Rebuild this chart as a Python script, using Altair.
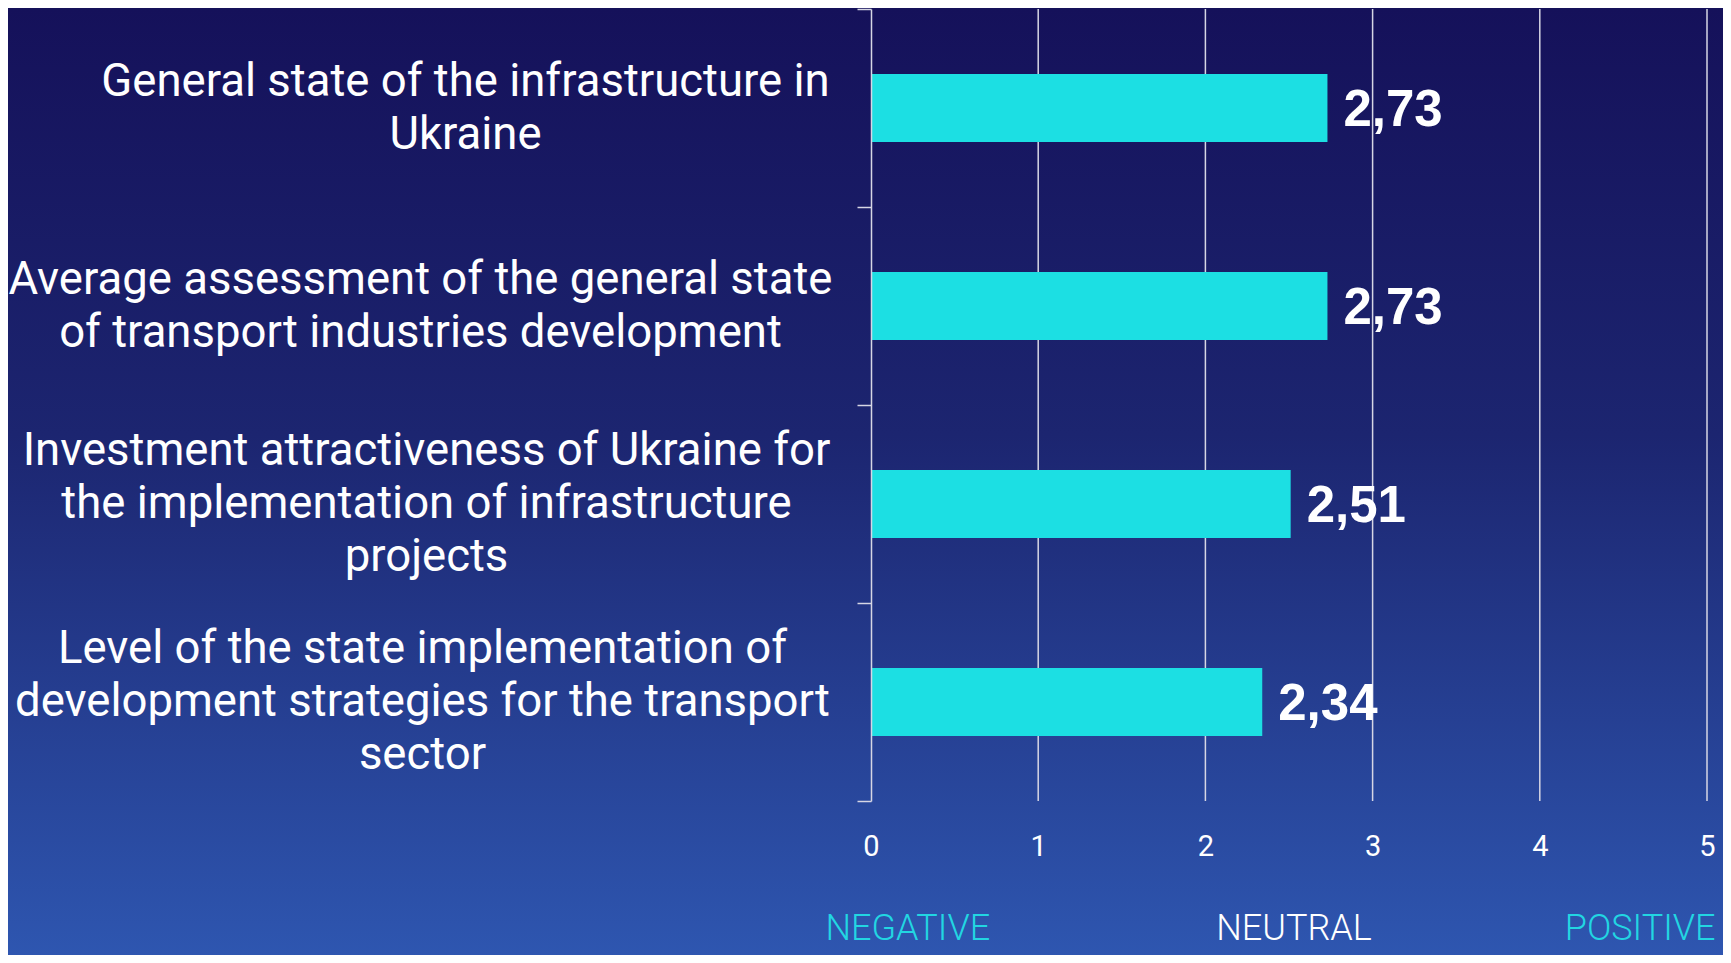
import altair as alt
import pandas as pd

# ---- data ----
categories = [
    "General state of the infrastructure in|Ukraine",
    "Average assessment of the general state|of transport industries development",
    "Investment attractiveness of Ukraine for|the implementation of infrastructure|projects",
    "Level of the state implementation of|development strategies for the transport|sector",
]
scores = [2.73, 2.73, 2.51, 2.34]
x_ticks = [0, 1, 2, 3, 4, 5]

sentiment_labels = ["NEGATIVE", "NEUTRAL", "POSITIVE"]
sentiment_pos = [0.22, 2.53, 4.60]

# ---- styles ----
W, H = 836, 792
PAD = {"left": 863, "top": 1, "right": 16, "bottom": 154}
label_padding = [392, 437, 431, 435]
LINE_H = 53
sentiment_colors = ["#22D6E2", "#FFFFFF", "#22D6E2"]
grid_col = "#D6D6E4"

df = pd.DataFrame({"category": categories, "score": scores})
sdf = pd.DataFrame({"label": sentiment_labels, "pos": sentiment_pos, "col": sentiment_colors})
tdf = pd.DataFrame({"tick": x_ticks[1:]})

pad_cond = {
    "condition": [
        {"test": f"datum.value == '{c}'", "value": p}
        for c, p in zip(categories[:-1], label_padding[:-1])
    ],
    "value": label_padding[-1],
}
# multi-line labels: global shift of half a line, plus another half line for 3-line labels
baseline_cond = {
    "condition": {
        "test": "length(split(datum.value, '|')) > 2",
        "value": "line-bottom",
    },
    "value": "middle",
}

x_scale = alt.Scale(domain=[0, 5], nice=False)
y_scale = alt.Scale(paddingInner=0, paddingOuter=0)

bg = alt.Chart(pd.DataFrame({"a": [0]})).mark_rect(
    color=alt.Gradient(
        gradient="linear",
        stops=[
            alt.GradientStop(color="#15115A", offset=0),
            alt.GradientStop(color="#1C2570", offset=0.45),
            alt.GradientStop(color="#2E56B0", offset=1),
        ],
        x1=0, y1=0, x2=0, y2=1,
    )
).encode(
    x=alt.value(-PAD["left"]), x2=alt.value(W + PAD["right"]),
    y=alt.value(-PAD["top"]), y2=alt.value(H + PAD["bottom"]),
)

grid = alt.Chart(tdf).mark_rule(color=grid_col, strokeWidth=1.5).encode(
    x=alt.X("tick:Q", scale=x_scale),
    y=alt.value(0), y2=alt.value(H),
)

base = alt.Chart(df)

bars = base.mark_bar(color="#1CDFE3", size=68).encode(
    x=alt.X(
        "score:Q",
        scale=x_scale,
        axis=alt.Axis(
            values=x_ticks, grid=False,
            domain=False, ticks=False, labelFontSize=29, labelColor="white",
            labelFont="Roboto", labelPadding=31, title=None, format="d",
            labelFlush=False, zindex=2,
        ),
    ),
    y=alt.Y(
        "category:N",
        sort=None,
        scale=y_scale,
        axis=alt.Axis(
            title=None, domain=True, domainColor=grid_col, domainWidth=1.5,
            ticks=True, tickSize=14, tickColor=grid_col, tickWidth=1.5,
            tickBand="extent", grid=False,
            labelExpr="split(datum.label, '|')",
            labelFont="Roboto", labelFontSize=45.5, labelColor="white",
            labelLineHeight=LINE_H, labelAlign="center",
            labelBaseline=baseline_cond, labelOffset=-LINE_H / 2,
            labelLimit=2000, labelPadding=pad_cond,
            zindex=2,
        ),
    ),
)

values = base.transform_calculate(
    txt="replace(format(datum.score, '.2f'), '.', ',')"
).mark_text(
    align="left", baseline="middle", dx=16, dy=3, font="Liberation Sans",
    fontWeight="bold", fontSize=51, color="white",
).encode(
    x=alt.X("score:Q", scale=x_scale),
    y=alt.Y("category:N", sort=None, scale=y_scale),
    text="txt:N",
)

sentiment = alt.Chart(sdf).mark_text(
    align="center", baseline="alphabetic", font="Roboto", fontWeight=300,
    fontSize=36,
).encode(
    x=alt.X("pos:Q", scale=x_scale),
    y=alt.value(H + 139),
    text="label:N",
    color=alt.Color("col:N", scale=None),
)

chart = alt.layer(bg, grid, bars, values, sentiment).properties(
    width=W, height=H,
    autosize=alt.AutoSizeParams(type="none"),
    padding=PAD,
    background="#1C2570",
).configure_view(stroke=None)

chart.save("out.html", embed_options={"renderer": "svg", "actions": False})
